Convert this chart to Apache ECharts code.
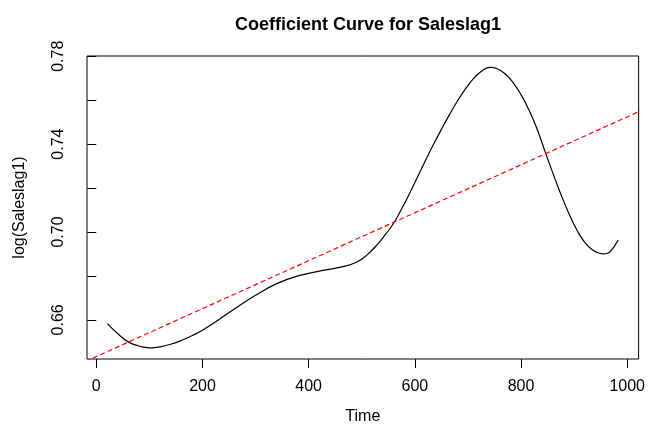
<!DOCTYPE html>
<html>
<head>
<meta charset="utf-8">
<script src="https://cdn.jsdelivr.net/npm/echarts@6/dist/echarts.min.js"></script>
<style>
html,body{margin:0;padding:0;background:#fff;}
#main{width:648px;height:438px;}
</style>
</head>
<body>
<div id="main"></div>
<script>
// Data
var timeValues = [21, 40, 60, 80, 90, 100, 110, 120, 140, 160, 180, 200, 230, 260, 300, 340, 380, 420, 460, 490, 510, 530, 545, 560, 575, 590, 605, 620, 635, 650, 665, 680, 695, 710, 725, 742, 755, 770, 785, 800, 815, 830, 845, 860, 875, 890, 905, 920, 935, 950, 955, 962, 970, 983];
var coefValues = [0.6583, 0.6538, 0.6500, 0.6481, 0.6476, 0.6473, 0.6474, 0.6477, 0.6489, 0.6506, 0.6528, 0.6553, 0.6600, 0.6650, 0.6712, 0.6765, 0.6800, 0.6822, 0.6840, 0.6862, 0.6896, 0.6945, 0.6990, 0.7040, 0.7105, 0.7175, 0.7250, 0.7325, 0.7398, 0.7467, 0.7533, 0.7595, 0.7650, 0.7697, 0.7731, 0.7749, 0.7743, 0.7720, 0.7680, 0.7625, 0.7555, 0.7470, 0.7368, 0.7268, 0.7172, 0.7085, 0.7010, 0.6953, 0.6918, 0.6902, 0.6900, 0.6902, 0.6916, 0.6964];
var trendTime = [-20, 1025];
var trendValues = [0.64112, 0.75513];
var xTicks = [0, 200, 400, 600, 800, 1000];
var yTicks = [0.66, 0.68, 0.70, 0.72, 0.74, 0.76, 0.78];
var yTickLabels = [0.66, 0.70, 0.74, 0.78];

var curve = timeValues.map(function (t, i) { return [t, coefValues[i]]; });
var trend = trendTime.map(function (t, i) { return [t, trendValues[i]]; });

var FONT = 'Liberation Sans';
var chart = echarts.init(document.getElementById('main'), null, {renderer: 'canvas'});
chart.setOption({
  animation: false,
  backgroundColor: '#fff',
  title: {
    text: 'Coefficient Curve for Saleslag1',
    left: 363, textAlign: 'center',
    top: 11,
    textStyle: {fontFamily: FONT, fontSize: 18, fontWeight: 'bold', color: '#000'}
  },
  grid: {
    left: 87, top: 56, width: 553, height: 303,
    show: true, borderColor: '#000', borderWidth: 1, backgroundColor: 'transparent'
  },
  xAxis: {
    type: 'value', min: -17.5, max: 1021.5,
    name: 'Time', nameLocation: 'middle', nameGap: 50,
    nameTextStyle: {fontFamily: FONT, fontSize: 16, color: '#000'},
    axisLine: {show: false},
    splitLine: {show: false},
    axisTick: {show: true, inside: false, length: 9, lineStyle: {color: '#000'}, customValues: xTicks},
    axisLabel: {fontFamily: FONT, fontSize: 16, color: '#000', margin: 20, customValues: xTicks,
      formatter: function (v) { return String(v); }}
  },
  yAxis: {
    type: 'value', min: 0.6422, max: 0.7801,
    name: 'log(Saleslag1)', nameLocation: 'middle', nameGap: 59, nameRotate: 90,
    nameTextStyle: {fontFamily: FONT, fontSize: 16, color: '#000'},
    axisLine: {show: false},
    splitLine: {show: false},
    axisTick: {show: true, inside: false, length: 9, lineStyle: {color: '#000'}, customValues: yTicks},
    axisLabel: {fontFamily: FONT, fontSize: 16, color: '#000', margin: 20, rotate: 90, customValues: yTickLabels,
      formatter: function (v) { return v.toFixed(2); }}
  },
  series: [
    {
      type: 'line', data: curve, smooth: true, showSymbol: false, symbol: 'none',
      lineStyle: {color: '#000', width: 1.2}, clip: true
    },
    {
      type: 'line', data: trend, showSymbol: false, symbol: 'none',
      lineStyle: {color: '#ff0000', width: 1.2, type: [5, 3]}, clip: true
    }
  ]
});
</script>
</body>
</html>
